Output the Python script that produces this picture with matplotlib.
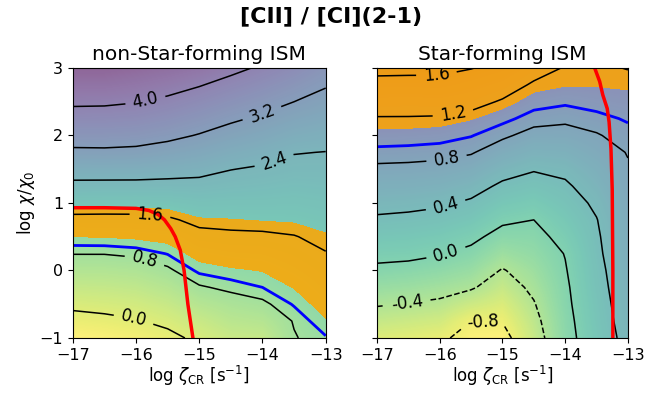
import numpy as np
import matplotlib
matplotlib.use("Agg")
import matplotlib.pyplot as plt

# grid nodes: log zeta_CR (columns) and log chi/chi0 (rows)
zeta_nodes = [-17.0, -16.5, -16.0, -15.5, -15.0, -14.5, -14.0, -13.5, -13.0]
chi_nodes = [-1.0, -0.75, -0.5, -0.25, 0.0, 0.25, 0.5, 0.75, 1.0,
             1.25, 1.5, 1.75, 2.0, 2.25, 2.5, 2.75, 3.0]

# log [CII]/[CI](2-1), non-star-forming ISM (rows = chi_nodes)
ratio_nonsf = [
    [-0.39, -0.33, -0.25, -0.12, 0.10, 0.29, 0.34, 0.78, 0.93],
    [-0.15, -0.10, -0.03, 0.10, 0.29, 0.48, 0.54, 0.82, 1.08],
    [0.09, 0.13, 0.18, 0.31, 0.53, 0.66, 0.74, 0.97, 1.21],
    [0.33, 0.35, 0.40, 0.53, 0.77, 0.86, 0.95, 1.11, 1.33],
    [0.57, 0.58, 0.62, 0.75, 0.99, 1.06, 1.11, 1.27, 1.45],
    [0.81, 0.81, 0.85, 0.96, 1.20, 1.28, 1.31, 1.42, 1.58],
    [1.10, 1.11, 1.14, 1.19, 1.46, 1.51, 1.52, 1.58, 1.72],
    [1.46, 1.46, 1.47, 1.53, 1.72, 1.74, 1.77, 1.79, 1.86],
    [1.89, 1.87, 1.86, 1.89, 1.98, 1.96, 1.96, 1.94, 1.99],
    [2.26, 2.25, 2.25, 2.24, 2.25, 2.19, 2.15, 2.10, 2.13],
    [2.66, 2.67, 2.66, 2.61, 2.54, 2.41, 2.34, 2.26, 2.26],
    [3.10, 3.11, 3.08, 2.98, 2.86, 2.70, 2.58, 2.42, 2.39],
    [3.45, 3.45, 3.42, 3.32, 3.17, 2.99, 2.85, 2.68, 2.60],
    [3.77, 3.76, 3.72, 3.61, 3.46, 3.28, 3.12, 2.94, 2.82],
    [4.09, 4.08, 4.02, 3.90, 3.74, 3.56, 3.39, 3.20, 3.03],
    [4.39, 4.39, 4.31, 4.19, 4.03, 3.84, 3.66, 3.46, 3.24],
    [4.70, 4.70, 4.60, 4.49, 4.35, 4.13, 3.93, 3.72, 3.45],
]

# log [CII]/[CI](2-1), star-forming ISM (rows = chi_nodes)
ratio_sf = [
    [-0.69, -0.72, -0.76, -0.88, -0.90, -0.55, -0.12, 0.21, 0.50],
    [-0.53, -0.57, -0.61, -0.80, -0.79, -0.49, -0.10, 0.24, 0.53],
    [-0.38, -0.41, -0.45, -0.58, -0.67, -0.42, -0.07, 0.26, 0.56],
    [-0.22, -0.25, -0.30, -0.37, -0.54, -0.34, -0.05, 0.29, 0.58],
    [-0.06, -0.09, -0.14, -0.22, -0.42, -0.26, -0.02, 0.31, 0.61],
    [0.08, 0.07, 0.02, -0.07, -0.26, -0.17, 0.01, 0.34, 0.64],
    [0.22, 0.20, 0.16, 0.07, -0.10, -0.09, 0.09, 0.36, 0.67],
    [0.36, 0.34, 0.30, 0.22, 0.05, 0.00, 0.18, 0.39, 0.69],
    [0.49, 0.47, 0.44, 0.36, 0.20, 0.14, 0.27, 0.45, 0.72],
    [0.62, 0.61, 0.58, 0.51, 0.35, 0.28, 0.36, 0.53, 0.75],
    [0.75, 0.74, 0.72, 0.66, 0.51, 0.42, 0.46, 0.61, 0.78],
    [0.90, 0.89, 0.87, 0.82, 0.67, 0.57, 0.59, 0.70, 0.81],
    [1.05, 1.04, 1.02, 0.96, 0.84, 0.72, 0.72, 0.78, 0.89],
    [1.18, 1.18, 1.17, 1.11, 1.00, 0.88, 0.84, 0.90, 0.97],
    [1.35, 1.34, 1.35, 1.30, 1.17, 1.02, 0.98, 1.02, 1.05],
    [1.51, 1.51, 1.52, 1.45, 1.35, 1.16, 1.11, 1.11, 1.12],
    [1.68, 1.67, 1.66, 1.61, 1.52, 1.33, 1.18, 1.16, 1.21],
]

levels_nonsf = [0.0, 0.8, 1.6, 2.4, 3.2, 4.0]
levels_sf = [-0.8, -0.4, 0.0, 0.4, 0.8, 1.2, 1.6]
observed_band = [1.1, 1.75]
observed_line = [0.95]

# red curves
red_nonsf_x = [-17.0, -16.5, -16.0, -15.8, -15.65, -15.55, -15.45, -15.38, -15.3, -15.24, -15.18, -15.1]
red_nonsf_y = [0.93, 0.93, 0.92, 0.89, 0.83, 0.75, 0.62, 0.5, 0.3, 0.0, -0.5, -1.0]
red_sf_x = [-13.53, -13.45, -13.40, -13.33, -13.30, -13.27, -13.25, -13.24, -13.24]
red_sf_y = [3.0, 2.8, 2.6, 2.4, 2.2, 1.8, 1.2, 0.0, -1.0]

x_ticks = [-17, -16, -15, -14, -13]
y_ticks = [-1, 0, 1, 2, 3]

xs = np.array(zeta_nodes)
ys = np.array(chi_nodes)
X, Y = np.meshgrid(xs, ys)
dx = (xs[1] - xs[0]) / 2
dy = (ys[1] - ys[0]) / 2

fig = plt.figure(figsize=(6.62, 3.93), dpi=100)
axL = fig.add_axes([0.110, 0.140, 0.382, 0.687])
axR = fig.add_axes([0.5695, 0.140, 0.379, 0.687])
fig.suptitle('[CII] / [CI](2-1)', fontsize=16, fontweight='bold', y=0.985)

specs = [
    (axL, np.array(ratio_nonsf), levels_nonsf, 'non-Star-forming ISM', red_nonsf_x, red_nonsf_y,
     [(-15.86, 2.55), (-13.99, 2.28), (-13.83, 1.66), (-15.78, 0.81), (-15.86, 0.17), (-16.04, -0.74)]),
    (axR, np.array(ratio_sf), levels_sf, 'Star-forming ISM', red_sf_x, red_sf_y,
     [(-16.05, 2.85), (-15.78, 2.28), (-15.89, 1.65), (-15.89, 0.92), (-15.89, 0.23),
      (-16.52, -0.49), (-15.30, -0.71)]),
]
for ax, Z, lev, title, rx, ry, man in specs:
    ax.imshow(Z, origin='lower', extent=[xs[0] - dx, xs[-1] + dx, ys[0] - dy, ys[-1] + dy],
              cmap='viridis_r', alpha=0.6, interpolation='bilinear', aspect='auto')
    ax.contourf(X, Y, Z, levels=observed_band, colors='orange', alpha=0.85)
    ax.contour(X, Y, Z, levels=observed_line, colors='blue', linewidths=2)
    cs = ax.contour(X, Y, Z, levels=lev, colors='k', linewidths=1.1)
    ax.clabel(cs, fmt='%.1f', fontsize=12, manual=man)
    ax.plot(rx, ry, color='red', lw=2.5)
    ax.set_xlim(-17, -13)
    ax.set_ylim(-1, 3)
    ax.set_xticks(x_ticks)
    ax.set_yticks(y_ticks)
    ax.tick_params(labelsize=11.5)
    ax.set_title(title, fontsize=14.5)
    ax.set_xlabel(r'log $\zeta_{\rm CR}$ [s$^{-1}$]', fontsize=12, labelpad=1)
axR.set_yticklabels([])
axL.set_ylabel(r'log $\chi/\chi_0$', fontsize=12, labelpad=2)
fig.savefig('out.png')
